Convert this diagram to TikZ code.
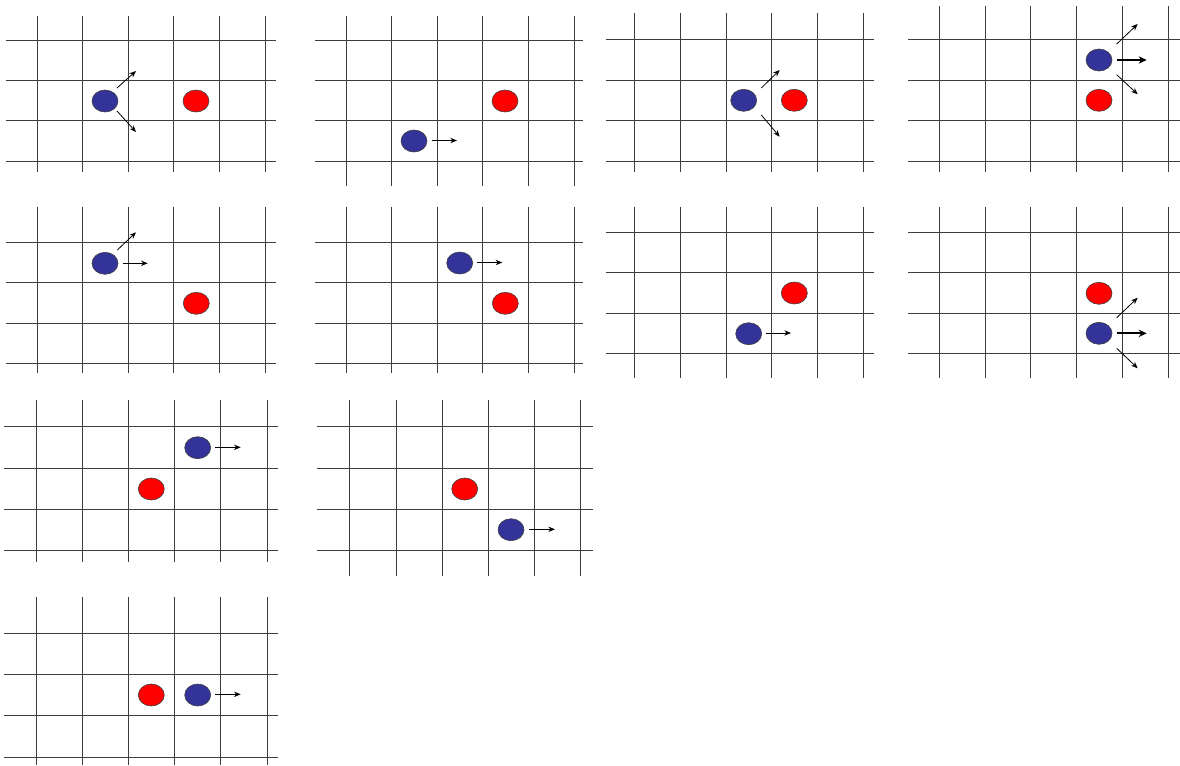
\documentclass[tikz,border=0pt]{standalone}
\usetikzlibrary{shapes.geometric,arrows.meta}
\definecolor{ballblue}{HTML}{333399}
\definecolor{ballred}{HTML}{FF0000}
\newcommand{\panelgrid}[7]{%
  \foreach \yy in {#1} {\pgfmathsetmacro\ry{round(\yy)+0.5}\draw[#7] (#2,\ry) -- (#3,\ry);}
  \foreach \xx in {#4} {\pgfmathsetmacro\rx{round(\xx)+0.5}\draw[#7] (\rx,#5) -- (\rx,#6);}
}
\tikzset{
  gridline/.style={draw=black!76, line width=1.1pt},
  gridthick/.style={draw=black!76, line width=1.25pt},
  ball/.style={ellipse, draw=black!75, line width=0.45pt, minimum width=19.5pt, minimum height=16.5pt, inner sep=0pt},
  blueball/.style={ball, fill=ballblue},
  redball/.style={ball, fill=ballred},
  motion/.style={draw=black, line width=0.6pt, -{Stealth[length=5pt,width=4pt]}},
  motionthick/.style={draw=black, line width=1.5pt, -{Stealth[length=6pt,width=5.5pt]}}
}
\begin{document}
\begin{tikzpicture}[x=0.75pt,y=-0.75pt]
\useasboundingbox (0,0) rectangle (1180,765);
% ---------- Panel 1 ----------
\panelgrid{40,80,120,161}{6}{276}{37,82,128,173,219,265}{16}{172}{gridline}
\node[blueball] (b1) at (105,101) {};
\node[redball] (r1) at (196,101) {};
\coordinate (b1a) at (117,88); \coordinate (b1b) at (136,71);
\coordinate (b1c) at (117,111); \coordinate (b1d) at (136,132);
\draw[motion] (b1a) -- (b1b);
\draw[motion] (b1c) -- (b1d);
% ---------- Panel 2 ----------
\panelgrid{39.5,80,120,161}{315}{583}{345.7,391.3,436.7,482.3,528,573.7}{16}{186}{gridline}
\node[blueball] (b2) at (414,141) {};
\node[redball] (r2) at (505,101) {};
\coordinate (b2a) at (432,140.5); \coordinate (b2b) at (457,140.5);
\draw[motion] (b2a) -- (b2b);
% ---------- Panel 3 ----------
\panelgrid{39,79.7,120,161}{606}{874}{634.3,680,725.7,771.3,817.3,863}{13}{172}{gridline}
\node[blueball] (b3) at (743.7,100.3) {};
\node[redball] (r3) at (794.3,100.3) {};
\coordinate (b3a) at (761.3,88); \coordinate (b3b) at (779.7,70);
\coordinate (b3c) at (761.3,115); \coordinate (b3d) at (779.7,136.7);
\draw[motion] (b3a) -- (b3b);
\draw[motion] (b3c) -- (b3d);
% ---------- Panel 4 ----------
\panelgrid{39.3,79.7,120,161}{908}{1179.5}{939,984.7,1030.3,1076,1122,1167.7}{6}{172}{gridline}
\node[blueball] (b4) at (1099,60) {};
\node[redball] (r4) at (1099,100.3) {};
\coordinate (b4a) at (1116.7,44); \coordinate (b4b) at (1137.7,24);
\coordinate (b4c) at (1116.7,60); \coordinate (b4d) at (1146.7,60);
\coordinate (b4e) at (1116.7,74.7); \coordinate (b4f) at (1137.7,94.3);
\draw[motion] (b4a) -- (b4b);
\draw[motionthick] (b4c) -- (b4d);
\draw[motion] (b4e) -- (b4f);
% ---------- Panel 5 ----------
\panelgrid{241.7,282.3,322.7,363.3}{6}{276}{37,82,128,173,219,265}{206.7}{373.3}{gridline}
\node[blueball] (b5) at (105,263.3) {};
\node[redball] (r5) at (196.3,303.3) {};
\coordinate (b5a) at (117.3,250); \coordinate (b5b) at (136,232.3);
\coordinate (b5c) at (122.7,263.3); \coordinate (b5d) at (147.7,263.3);
\draw[motion] (b5a) -- (b5b);
\draw[motion] (b5c) -- (b5d);
% ---------- Panel 6 ----------
\panelgrid{242,282.3,322.7,363.3}{315}{583}{345.7,391.3,436.7,482.3,528,573.7}{206.7}{373.3}{gridline}
\node[blueball] (b6) at (459.7,263) {};
\node[redball] (r6) at (505.3,303.3) {};
\coordinate (b6a) at (477.3,262.5); \coordinate (b6b) at (502.3,262.5);
\draw[motion] (b6a) -- (b6b);
% ---------- Panel 7 ----------
\panelgrid{231.7,272,312.7,353.3}{606}{874.3}{634.3,680,725.7,771.3,817.3,863}{206.7}{378.3}{gridline}
\node[redball] (r7) at (794.3,293) {};
\node[blueball] (b7) at (748.7,333.7) {};
\coordinate (b7a) at (766.3,333); \coordinate (b7b) at (791,333);
\draw[motion] (b7a) -- (b7b);
% ---------- Panel 8 ----------
\panelgrid{231.7,272.3,312.7,353.3}{908}{1179.5}{939,984.7,1030.3,1076,1122,1167.7}{206.7}{378.3}{gridline}
\node[redball] (r8) at (1099,293.3) {};
\node[blueball] (b8) at (1099,333.3) {};
\coordinate (b8a) at (1116.7,317.7); \coordinate (b8b) at (1137.7,297.7);
\coordinate (b8c) at (1116.7,333.3); \coordinate (b8d) at (1146.7,333.3);
\coordinate (b8e) at (1116.7,348.3); \coordinate (b8f) at (1137.7,368.3);
\draw[motion] (b8a) -- (b8b);
\draw[motionthick] (b8c) -- (b8d);
\draw[motion] (b8e) -- (b8f);
% ---------- Panel 9 ----------
\panelgrid{426,467.7,508.7,550.3}{4}{278.3}{35.7,81.7,128,174,220.3,266.7}{400}{561.7}{gridthick}
\node[blueball] (b9) at (197.7,447.7) {};
\node[redball] (r9) at (151.3,489) {};
\coordinate (b9a) at (215,447.3); \coordinate (b9b) at (240.7,447.3);
\draw[motion] (b9a) -- (b9b);
% ---------- Panel 10 ----------
\panelgrid{426,467.7,508.7,550.3}{317.3}{592.7}{349.3,395.7,442,488,534,580}{400}{575.7}{gridthick}
\node[redball] (r10) at (464.7,489) {};
\node[blueball] (b10) at (511,529.7) {};
\coordinate (b10a) at (529.3,529.3); \coordinate (b10b) at (555,529.3);
\draw[motion] (b10a) -- (b10b);
% ---------- Panel 11 ----------
\panelgrid{632.7,674,715,756.7}{4}{278.3}{35.7,81.7,128,174,220.3,266.7}{596.7}{765}{gridthick}
\node[redball] (r11) at (151.3,695) {};
\node[blueball] (b11) at (197.7,695) {};
\coordinate (b11a) at (215,694.3); \coordinate (b11b) at (240.7,694.3);
\draw[motion] (b11a) -- (b11b);
\end{tikzpicture}
\end{document}
